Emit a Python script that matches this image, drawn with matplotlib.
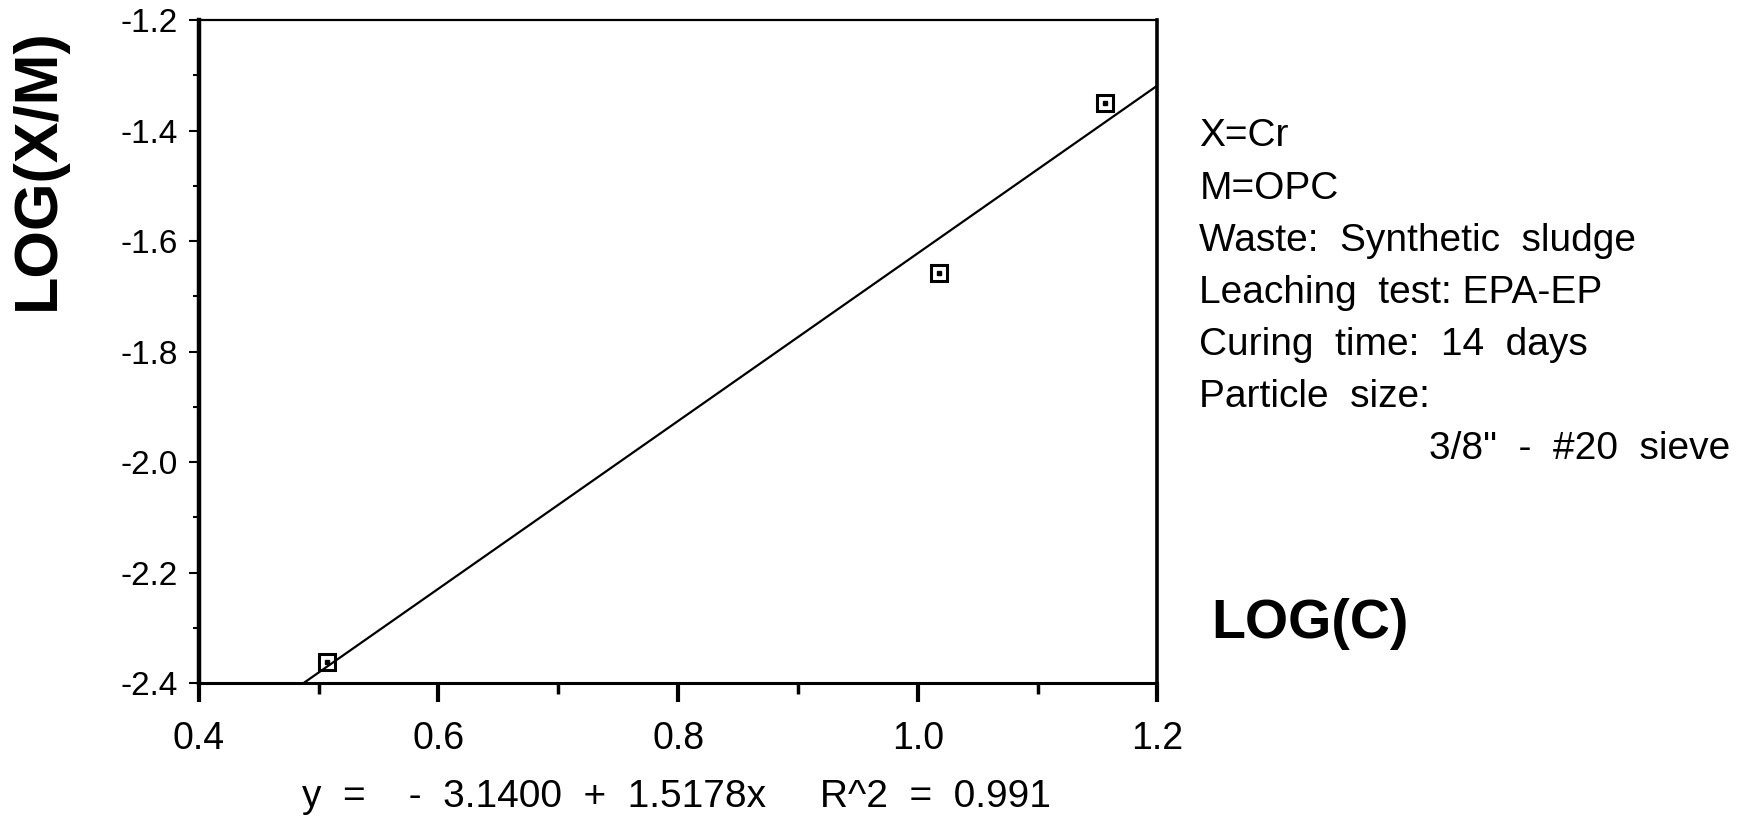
import numpy as np
import matplotlib.pyplot as plt
from matplotlib.ticker import MultipleLocator

log_c = [0.507, 1.018, 1.156]
log_xm = [-2.362, -1.657, -1.351]

# regression printed under the chart
intercept = -3.1400
slope = 1.5178
r2 = 0.991

notes = ["X=Cr", "M=OPC", "Waste:  Synthetic  sludge", "Leaching  test: EPA-EP",
         "Curing  time:  14  days", "Particle  size:"]
sieve_note = '3/8"  -  #20  sieve'

plt.rcParams['font.family'] = ['Liberation Sans', 'DejaVu Sans']

fig = plt.figure(figsize=(17.51, 8.17), dpi=100)
ax = fig.add_axes([0.1135, 0.164, 0.5475, 0.8115])

# fit line from where it meets the bottom axis up to the right edge
x0 = (-2.4 - intercept) / slope
x_fit = np.array([x0, 1.2])
ax.plot(x_fit, intercept + slope * x_fit, color='black', lw=1.6)

ax.plot(log_c, log_xm, linestyle='none', marker='s', markersize=11,
        markerfacecolor='none', markeredgecolor='black', markeredgewidth=2.2)
ax.plot(log_c, log_xm, linestyle='none', marker='s', markersize=2.5,
        color='black')

ax.set_xlim(0.4, 1.2)
ax.set_ylim(-2.4, -1.2)
ax.xaxis.set_major_locator(MultipleLocator(0.2))
ax.xaxis.set_minor_locator(MultipleLocator(0.1))
ax.yaxis.set_major_locator(MultipleLocator(0.2))
ax.yaxis.set_minor_locator(MultipleLocator(0.1))
ax.xaxis.set_major_formatter(lambda v, p: f"{v:.1f}")
ax.yaxis.set_major_formatter(lambda v, p: f"{v:.1f}".replace("\u2212", "-"))

ax.tick_params(axis='x', which='major', direction='out', length=14, width=3,
               pad=13, labelsize=27)
ax.tick_params(axis='x', which='minor', direction='out', length=8, width=2.5)
ax.tick_params(axis='y', which='major', direction='out', length=7, width=1.5,
               pad=8, labelsize=24)
ax.tick_params(axis='y', which='minor', direction='out', length=4, width=1.5)

ax.spines['left'].set_linewidth(3.2)
ax.spines['right'].set_linewidth(2.6)
ax.spines['bottom'].set_linewidth(2.2)
ax.spines['top'].set_linewidth(1.6)

fig.text(0.022, 0.793, "LOG(X/M)", rotation=90, fontsize=44, fontweight='bold',
         ha='center', va='center')
fig.text(0.692, 0.236, "LOG(C)", fontsize=40, fontweight='bold',
         ha='left', va='center')

eq = f"y  =    -  {abs(intercept):.4f}  +  {slope:.4f}x     R^2  =  {r2:.3f}"
fig.text(0.3865, 0.024, eq, fontsize=28, ha='center', va='center')

y = 0.833
for line in notes:
    fig.text(0.685, y, line, fontsize=28, ha='left', va='center')
    y -= 0.0638
fig.text(0.988, y, sieve_note, fontsize=28, ha='right', va='center')

fig.savefig("out.png", dpi=100)
